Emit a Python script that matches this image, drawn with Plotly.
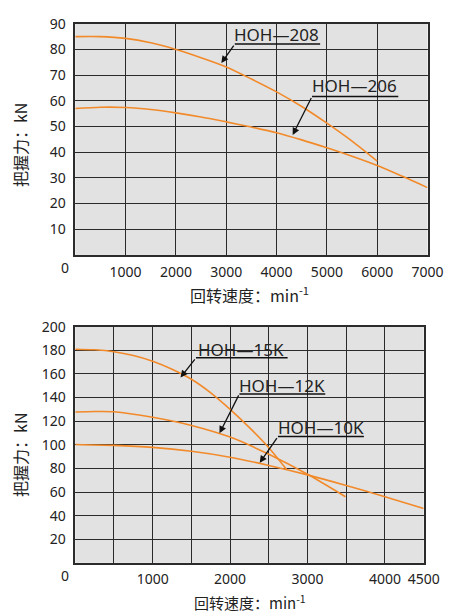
import plotly.graph_objects as go

W, H = 458, 613

# ---- data: top chart ----
x_208 = [0, 500, 1000, 1500, 2000, 2500, 3000, 3500, 4000, 4500, 5000, 5500, 6000]
y_208 = [85.0, 85.0, 84.3, 82.6, 80.0, 76.8, 73.2, 68.5, 63.5, 57.8, 51.3, 44.3, 36.5]
x_206 = [0, 500, 1000, 1500, 2000, 2500, 3000, 3500, 4000, 4500, 5000, 5500, 6000, 6500, 7000]
y_206 = [57.0, 57.5, 57.4, 56.6, 55.3, 53.7, 51.8, 49.8, 47.6, 44.8, 41.7, 38.4, 34.8, 30.6, 26.2]

# ---- data: bottom chart ----
x_15k = [0, 250, 500, 750, 1000, 1250, 1500, 1750, 2000, 2250, 2500, 2730]
y_15k = [181.0, 180.5, 178.8, 175.6, 170.8, 164.0, 155.5, 144.0, 130.0, 114.5, 97.5, 79.0]
x_12k = [0, 250, 500, 1000, 1500, 2000, 2500, 3000, 3490]
y_12k = [127.8, 128.2, 128.0, 123.3, 116.4, 106.5, 92.0, 75.0, 56.0]
x_10k = [0, 500, 1000, 1500, 2000, 2500, 3000, 3500, 4000, 4500]
y_10k = [100.3, 99.5, 97.8, 94.5, 89.5, 82.5, 74.5, 65.5, 56.0, 46.0]

top_xticks = [1000, 2000, 3000, 4000, 5000, 6000, 7000]
top_yticks = [10, 20, 30, 40, 50, 60, 70, 80, 90]
bot_xticks = [500, 1000, 1500, 2000, 2500, 3000, 3500, 4000, 4500]
bot_xtext = ["", "1000", "", "2000", "", "3000", "", "4000", "4500"]
bot_yticks = [20, 40, 60, 80, 100, 120, 140, 160, 180, 200]

# labels: (name, text_x, text_y, line_x0, line_x1, line_y, arrow_x, arrow_y)
top_labels = [
    ("HOH—208", 4008, 85.9, 3170, 4866, 82.1, 2902, 74.7),
    ("HOH—206", 5543, 65.9, 4705, 6419, 61.7, 4321, 46.7),
]
bot_labels = [
    ("HOH—15K", 2147, 180.5, 1559, 2743, 173.7, 1359, 157.0),
    ("HOH—12K", 2671, 150.6, 2120, 3229, 143.1, 1863, 109.7),
    ("HOH—10K", 3170, 114.5, 2618, 3728, 107.0, 2382, 84.7),
]

ORANGE = "#f28a2a"
GRID = "#2b2b2b"
BG = "#e2e2e2"
FONT = "Noto Sans"
CJK = "Noto Sans CJK SC"

fig = go.Figure()
for xs, ys in [(x_208, y_208), (x_206, y_206)]:
    fig.add_trace(go.Scatter(x=xs, y=ys, mode="lines", line=dict(color=ORANGE, width=1.6, shape="spline", smoothing=0.8),
                             xaxis="x", yaxis="y", showlegend=False, hoverinfo="skip"))
for xs, ys in [(x_15k, y_15k), (x_12k, y_12k), (x_10k, y_10k)]:
    fig.add_trace(go.Scatter(x=xs, y=ys, mode="lines", line=dict(color=ORANGE, width=1.6, shape="spline", smoothing=0.8),
                             xaxis="x2", yaxis="y2", showlegend=False, hoverinfo="skip"))

def px(v):
    return v / W

def py(v):
    return 1 - v / H

axis_common = dict(showgrid=True, gridcolor=GRID, gridwidth=1, showline=True, linecolor=GRID,
                   linewidth=1.5, mirror=True, zeroline=False, ticks="",
                   tickfont=dict(family=FONT, size=14, color="#222"))

fig.update_layout(
    width=W, height=H,
    margin=dict(l=0, r=0, t=0, b=0),
    paper_bgcolor="white",
    plot_bgcolor=BG,
    showlegend=False,
    xaxis=dict(domain=[px(78), px(443)], range=[0, 7000], tickmode="array", tickvals=top_xticks,
               anchor="y", ticklabelstandoff=4, **axis_common),
    yaxis=dict(domain=[py(249), py(14)], range=[0, 90], tickmode="array", tickvals=top_yticks,
               anchor="x", ticklabelstandoff=5, **axis_common),
    xaxis2=dict(domain=[px(78), px(439)], range=[0, 4500], tickmode="array", tickvals=bot_xticks,
                ticktext=bot_xtext, anchor="y2", ticklabelstandoff=3, **axis_common),
    yaxis2=dict(domain=[py(562), py(322)], range=[0, 200], tickmode="array", tickvals=bot_yticks,
                anchor="x2", ticklabelstandoff=5, **axis_common),
)

anns = []
shapes = []
for labels, xr, yr in [(top_labels, "x", "y"), (bot_labels, "x2", "y2")]:
    for name, tx, ty, lx0, lx1, ly, ax_, ay_ in labels:
        anns.append(dict(x=tx, y=ty, xref=xr, yref=yr, text=name, showarrow=False,
                         font=dict(family=FONT, size=17, color="#222"), xanchor="center", yanchor="middle"))
        shapes.append(dict(type="line", xref=xr, yref=yr, x0=lx0, x1=lx1, y0=ly, y1=ly,
                           line=dict(color="#111", width=1.5)))
        anns.append(dict(x=ax_, y=ay_, xref=xr, yref=yr, ax=lx0, ay=ly, axref=xr, ayref=yr,
                         text="", showarrow=True, arrowhead=2, arrowsize=1.1, arrowwidth=1.3,
                         arrowcolor="#111", standoff=0))

# origin "0" labels
for yy in [262, 575]:
    anns.append(dict(x=px(67), y=py(yy), xref="paper", yref="paper", text="0", showarrow=False,
                     font=dict(family=FONT, size=14, color="#222"), xanchor="center", yanchor="middle"))

# axis titles
for yy in [137, 452]:
    anns.append(dict(x=px(20), y=py(yy), xref="paper", yref="paper", text="把握力：kN", textangle=-90,
                     showarrow=False, font=dict(family=CJK, size=16, color="#222"),
                     xanchor="center", yanchor="middle"))
for yy, sz in [(289, 16), (602, 15)]:
    anns.append(dict(x=px(259), y=py(yy), xref="paper", yref="paper",
                     text="回转速度：min<sup>-1</sup>", showarrow=False,
                     font=dict(family=CJK, size=sz, color="#222"), xanchor="center", yanchor="middle"))

fig.update_layout(annotations=anns, shapes=shapes)
fig.write_html("out.html", config={"displayModeBar": False})

# remove default page margin so the figure sits at the window origin
with open("out.html", "r", encoding="utf-8") as f:
    html = f.read()
html = html.replace("<head>", "<head><style>html,body{margin:0;padding:0;overflow:hidden;}</style>", 1)
with open("out.html", "w", encoding="utf-8") as f:
    f.write(html)
